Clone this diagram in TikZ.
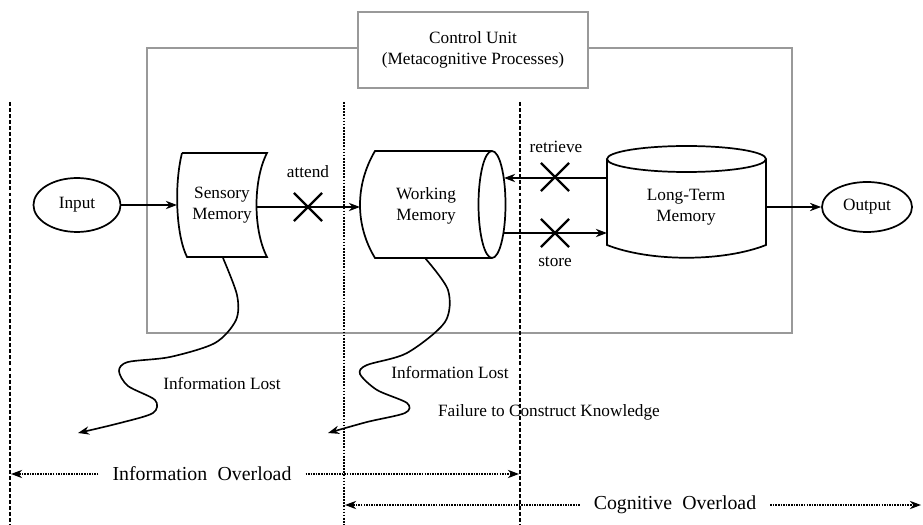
\documentclass[tikz,border=0pt]{standalone}
\usepackage{fontspec}
\setmainfont{Liberation Serif}
\usetikzlibrary{arrows.meta,shapes.geometric,shapes.misc}

\begin{document}
\begin{tikzpicture}[x=0.58pt,y=-0.58pt]

	% INPUTS

	\newcommand{\leftborder}{10};			% left dashed border
	\newcommand{\midborder}{344};			% dotted border between the two overloads
	\newcommand{\rightborder}{520};			% right dashed border
	\newcommand{\bordertop}{102};			% where the borders start

	% styles
	\tikzstyle{box}=[draw=black!40,line width=1.1pt];
	\tikzstyle{memory}=[line width=1pt];
	\tikzstyle{flow}=[line width=0.95pt,-{Stealth[length=6.5pt,width=4.8pt]}];
	\tikzstyle{blocked}=[cross out,draw,line width=1.3pt,minimum size=15pt,inner sep=0pt];
	\tikzstyle{border}=[line width=1.7pt,dash pattern=on 2.3pt off 1.2pt];
	\tikzstyle{seam}=[line width=0.6pt,dash pattern=on 1pt off 0.8pt];
	\tikzstyle{overload}=[line width=0.7pt,dash pattern=on 0.9pt off 0.6pt,-{Stealth[length=6.5pt,width=4.8pt]}];
	\tikzstyle{memtext}=[font=\fontsize{10}{12}\selectfont,align=center,inner sep=0pt];
	\tikzstyle{terminal}=[draw,ellipse,memory,inner sep=0pt,font=\fontsize{10}{12}\selectfont];
	\tikzstyle{loadtext}=[font=\fontsize{11.5}{14}\selectfont,inner xsep=8pt,inner ysep=1pt];

	\useasboundingbox (0,0) rectangle (923,525);

	% outer rectangle and control unit
	\draw[box] (147,48) rectangle (792,333);
	\node[box,fill=white,memtext,minimum width=133.4pt,minimum height=44pt] (control) at (473,50) {Control Unit\\(Metacognitive Processes)};

	% borders of the overload regions
	\draw[border] (\leftborder,\bordertop) -- (\leftborder,525);
	\draw[seam] (\midborder,\bordertop) -- (\midborder,525);
	\draw[border] (\rightborder,\bordertop) -- (\rightborder,525);

	% input and output
	\node[terminal,minimum width=50.5pt,minimum height=31.3pt] (input) at (77,205) {Input};
	\node[terminal,minimum width=52.2pt,minimum height=29pt] (output) at (867,207) {Output};

	% sensory memory
	\draw[memory] (182,153) -- (267,153) .. controls (253,180) and (253,230) .. (267,257) -- (187,257) .. controls (176,235) and (174,185) .. (182,153);
	\node[memtext] (sensory) at (222,205) {Sensory\\Memory};

	% working memory, lying cylinder
	\draw[memory] (492,151) -- (375,151) .. controls (355,185) and (355,225) .. (375,258) -- (492,258);
	\draw[memory] (492,204.5) ellipse [x radius=13.5, y radius=53.5];
	\node[memtext] (working) at (426,206) {Working\\Memory};

	% long-term memory, standing cylinder
	\draw[memory] (607,159) -- (607,245) .. controls (650,262) and (723,262) .. (766,245) -- (766,159);
	\draw[memory] (686.5,159) ellipse [x radius=79.5, y radius=13];
	\node[memtext] (longterm) at (686,207) {Long-Term\\Memory};

	% ends of the connectors on the memories
	\coordinate (sensory in) at (177,205);
	\coordinate (sensory out) at (257,207);
	\coordinate (sensory bottom) at (223,258);
	\coordinate (working in) at (360,207);
	\coordinate (working top) at (504,178);
	\coordinate (working bottom) at (504,233);
	\coordinate (working base) at (425,258);
	\coordinate (longterm top) at (607,178);
	\coordinate (longterm bottom) at (607,233);
	\coordinate (longterm out) at (766,207);
	\coordinate (sensory lost) at (78,433);
	\coordinate (working lost) at (328,433);

	% flow of information
	\draw[flow] (input) -- (sensory in);
	\draw[flow] (sensory out) -- (working in);
	\draw[flow] (longterm top) -- (working top);
	\draw[flow] (working bottom) -- (longterm bottom);
	\draw[flow] (longterm out) -- (output);

	% blocked transfers
	\node[blocked] (attend x) at (308,207) {};
	\node[blocked] (retrieve x) at (555,177) {};
	\node[blocked] (store x) at (555,233) {};
	\node[memtext] (attend) at (308,172) {attend};
	\node[memtext] (retrieve) at (556,147) {retrieve};
	\node[memtext] (store) at (555,262) {store};

	% information lost
	\draw[flow] plot[smooth] coordinates {(sensory bottom) (237,295) (236,320) (215,343) (170,357) (128,362) (119,371) (128,386) (155,400) (153,413) (120,423) (sensory lost)};
	\draw[flow] plot[smooth] coordinates {(working base) (448,290) (445,322) (407,353) (367,365) (360,374) (377,390) (407,403) (405,413) (367,422) (working lost)};
	\node[memtext] (lost one) at (222,384) {Information Lost};
	\node[memtext] (lost two) at (450,373) {Information Lost};
	\node[memtext] (failure) at (549,412) {Failure to Construct Knowledge};

	% overload ranges
	\coordinate (info left) at (11,474);
	\coordinate (info right) at (519,474);
	\coordinate (cog left) at (345,505);
	\coordinate (cog right) at (921,505);
	\node[loadtext] (infoload) at (202,474) {Information\hspace{6pt}Overload};
	\node[loadtext] (cogload) at (675,505) {Cognitive\hspace{6pt}Overload};
	\draw[overload] (infoload) -- (info left);
	\draw[overload] (infoload) -- (info right);
	\draw[overload] (cogload) -- (cog left);
	\draw[overload] (cogload) -- (cog right);

\end{tikzpicture}
\end{document}
